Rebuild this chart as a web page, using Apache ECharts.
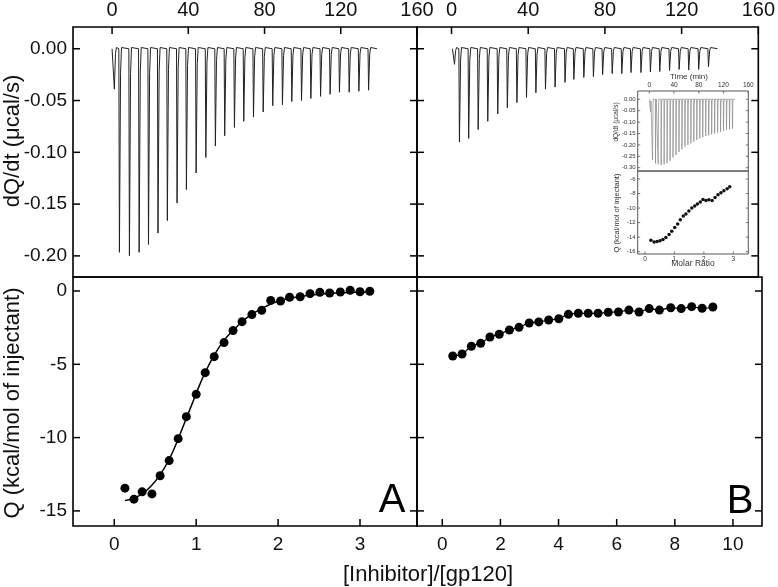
<!DOCTYPE html>
<html>
<head>
<meta charset="utf-8">
<script src="https://cdn.jsdelivr.net/npm/echarts@6/dist/echarts.min.js"></script>
<style>html,body{margin:0;padding:0;background:#fff}#c{width:778px;height:587px}</style>
</head>
<body>
<div id="c"></div>
<script>
// ---------- data ----------
// Panel A thermogram (time in min, dQ/dt in µcal/s)
const aSmallTime = 1.2, aSmallDepth = -0.039;
const aTimes = [3.85,9.1,14.2,19.1,24.1,29.0,34.1,39.0,44.1,49.2,54.2,59.1,64.2,69.1,74.2,79.3,84.3,89.4,94.3,99.4,104.3,109.4,114.4,119.3,124.4,129.5,134.6];
const aDepths = [-0.1966,-0.1998,-0.1966,-0.189,-0.178,-0.166,-0.149,-0.136,-0.120,-0.105,-0.094,-0.084,-0.076,-0.070,-0.066,-0.061,-0.055,-0.054,-0.051,-0.050,-0.048,-0.046,-0.044,-0.042,-0.042,-0.041,-0.040];
// Panel B thermogram
const bSmallTime = 1.55, bSmallDepth = -0.015;
const bTimes = [4.13,8.95,13.9,18.9,24.1,29.1,34.1,39.1,44.0,49.0,54.0,59.2,63.8,69.0,74.0,78.8,83.8,88.8,93.6,98.8,103.7,108.6,113.7,118.7,123.7,128.9,134.0];
const bDepths = [-0.090,-0.0866,-0.078,-0.070,-0.063,-0.057,-0.052,-0.047,-0.0425,-0.039,-0.037,-0.0325,-0.0296,-0.0277,-0.027,-0.025,-0.024,-0.024,-0.023,-0.023,-0.0225,-0.022,-0.021,-0.020,-0.0206,-0.020,-0.0174];
// Panel A integrated heats
const aX = [0.13,0.24,0.34,0.46,0.56,0.67,0.78,0.88,1.00,1.11,1.22,1.34,1.45,1.56,1.68,1.80,1.91,2.03,2.14,2.27,2.39,2.51,2.63,2.76,2.88,3.00,3.12];
const aY = [-13.45,-14.2,-13.7,-13.84,-12.6,-11.57,-10.07,-8.57,-7.05,-5.57,-4.48,-3.52,-2.7,-2.09,-1.61,-1.32,-0.64,-0.68,-0.43,-0.39,-0.18,-0.09,-0.14,-0.07,0.05,-0.05,-0.02];
// Panel A fitted curve
const fitX = [0.13,0.25,0.35,0.45,0.55,0.65,0.75,0.85,0.95,1.05,1.15,1.25,1.35,1.45,1.55,1.65,1.75,1.85,1.95,2.1,2.3,2.5,2.7,2.9,3.12];
const fitY = [-14.3,-14.1,-13.8,-13.3,-12.6,-11.7,-10.5,-9.1,-7.7,-6.3,-5.1,-4.1,-3.3,-2.7,-2.15,-1.7,-1.35,-1.05,-0.8,-0.55,-0.35,-0.22,-0.14,-0.09,-0.06];
// Panel B integrated heats
const bX = [0.36,0.68,1.00,1.32,1.64,1.96,2.31,2.64,2.99,3.32,3.66,4.01,4.34,4.68,5.02,5.36,5.71,6.06,6.42,6.77,7.12,7.47,7.86,8.22,8.58,8.94,9.31];
const bY = [-4.43,-4.30,-3.77,-3.57,-3.14,-2.95,-2.66,-2.48,-2.18,-2.11,-1.98,-1.89,-1.59,-1.52,-1.52,-1.52,-1.45,-1.43,-1.30,-1.43,-1.20,-1.30,-1.14,-1.20,-1.07,-1.18,-1.09];
// Inset thermogram
const iSmallTime = 2.1, iSmallDepth = -0.054;
const iTimes = [5.3,10.1,14.4,19.2,24.0,28.8,33.6,38.4,43.2,48.0,52.8,57.6,62.4,67.2,72.0,76.8,81.6,86.4,91.2,96.0,100.8,105.6,110.4,115.2,120.0,124.8,129.6,134.4];
const iDepths = [-0.266,-0.281,-0.285,-0.288,-0.285,-0.280,-0.270,-0.255,-0.244,-0.231,-0.219,-0.208,-0.200,-0.193,-0.186,-0.178,-0.172,-0.167,-0.161,-0.158,-0.154,-0.150,-0.146,-0.143,-0.139,-0.135,-0.132,-0.129];
// Inset integrated heats
const iX = [0.20,0.31,0.41,0.51,0.61,0.71,0.82,0.91,1.01,1.11,1.20,1.30,1.39,1.49,1.59,1.69,1.78,1.88,1.97,2.07,2.17,2.28,2.38,2.48,2.58,2.68,2.79,2.88];
const iY = [-14.43,-14.66,-14.6,-14.5,-14.33,-14.06,-13.64,-13.2,-12.67,-12.2,-11.6,-11.1,-10.8,-10.4,-10.0,-9.7,-9.43,-9.15,-8.82,-8.96,-8.87,-8.96,-8.55,-8.18,-7.9,-7.62,-7.34,-7.06];
// Tick values
const timeTicks = [0,40,80,120,160];
const dqTicks = [0,-0.05,-0.10,-0.15,-0.20];
const qTicks = [0,-5,-10,-15];
const ratioTicksA = [0,1,2,3];
const ratioTicksB = [0,2,4,6,8,10];
const insetDqTicks = [0,-0.05,-0.10,-0.15,-0.20,-0.25,-0.30];
const insetQTicks = [-6,-8,-10,-12,-14,-16];
const insetRatioTicks = [0,1,2,3];

// ---------- helpers ----------
function trace(start, end, smallT, smallD, times, depths) {
  const all = [[smallT, smallD]].concat(times.map((t, i) => [t, depths[i]]));
  const pts = [[start, 0]];
  all.forEach(([t, d]) => {
    pts.push([t - 0.3, 0], [t, d], [t + 0.6, d * 0.12], [t + 1.1, 0.0012], [t + 2.0, 0.002]);
  });
  pts.push([end, 0]);
  return pts;
}
const zip = (xs, ys) => xs.map((x, i) => [x, ys[i]]);
const FONT = 'Liberation Sans';

const panels = [
  {box: [73, 27, 344, 250],      x: [-20.5, 160],    y: [-0.2204, 0.021],  main: true},
  {box: [417, 27, 345, 250],     x: [-18, 160],      y: [-0.2204, 0.021],  main: true},
  {box: [73, 277, 344, 249],     x: [-0.504, 3.696], y: [-16.03, 0.955],   main: true},
  {box: [417, 277, 345, 249],    x: [-0.87, 11.0],   y: [-16.03, 0.955],   main: true},
  {box: [637.7, 91, 110.6, 80],  x: [-18.7, 160],    y: [-0.3145, 0.0364], main: false},
  {box: [637.7, 171, 110.6, 83], x: [-0.248, 3.51],  y: [-16.32, -4.9],    main: false}
];
const deco = [
  {xPos: 'top', xT: timeTicks, xL: true, xfs: 20, xm: 7, yT: dqTicks, yL: true, yfs: 19, yfmt: v => v.toFixed(2)},
  {xPos: 'top', xT: timeTicks, xL: true, xfs: 20, xm: 7, yT: dqTicks, yL: false},
  {xPos: 'bottom', xT: ratioTicksA, xL: true, xfs: 19, xm: 9, yT: qTicks, yL: true, yfs: 19},
  {xPos: 'bottom', xT: ratioTicksB, xL: true, xfs: 19, xm: 9, yT: qTicks, yL: false},
  {xPos: 'top', xT: timeTicks, xL: true, xfs: 6.5, xm: 2, yT: insetDqTicks, yL: true, yfs: 6, yfmt: v => v.toFixed(2)},
  {xPos: 'bottom', xT: insetRatioTicks, xL: true, xfs: 6.5, xm: 2, yT: insetQTicks, yL: true, yfs: 6}
];

function labelAxis(g, pos, range, ticks, showLabel, fs, margin, fmt, main) {
  return {
    type: 'value', gridIndex: g, position: pos, min: range[0], max: range[1],
    splitLine: {show: false},
    axisLine: {show: false, onZero: false},
    axisTick: {show: false},
    axisLabel: {show: showLabel, customValues: ticks, margin: margin,
      fontFamily: FONT, fontSize: fs, color: main ? '#111' : '#333',
      formatter: fmt || (v => String(v))}
  };
}

const grids = [], xAxes = [], yAxes = [], tickSeries = [];
panels.forEach((p, i) => {
  const d = deco[i];
  grids.push({left: p.box[0], top: p.box[1], width: p.box[2], height: p.box[3], show: true,
    borderColor: p.main ? '#000' : '#555', borderWidth: p.main ? 1.6 : 1});
  xAxes.push(labelAxis(i, d.xPos, p.x, d.xT, d.xL, d.xfs, d.xm, null, p.main));
  yAxes.push(labelAxis(i, 'left', p.y, d.yT, d.yL, d.yfs || 10, p.main ? 6 : 2, d.yfmt, p.main));
  const len = p.main ? 7 : 2.5, col = p.main ? '#000' : '#555', w = p.main ? 1.5 : 0.8;
  // tick marks drawn through the panel's own scales, pointing into the frame
  const sides = [
    {data: d.yT.map(v => [p.x[0], v]), dir: [1, 0]},
    {data: d.yT.map(v => [p.x[1], v]), dir: [-1, 0]},
    d.xPos === 'top' ? {data: d.xT.map(v => [v, p.y[1]]), dir: [0, 1]}
                     : {data: d.xT.map(v => [v, p.y[0]]), dir: [0, -1]}
  ];
  sides.forEach(s => {
    tickSeries.push({
      type: 'custom', xAxisIndex: i, yAxisIndex: i, clip: false, silent: true, z: 10,
      renderItem: (params, api) => {
        const c = api.coord([api.value(0), api.value(1)]);
        return {type: 'line',
          shape: {x1: c[0], y1: c[1], x2: c[0] + s.dir[0] * len, y2: c[1] + s.dir[1] * len},
          style: {stroke: col, lineWidth: w}};
      },
      data: s.data
    });
  });
});

const chart = echarts.init(document.getElementById('c'), null, {renderer: 'canvas'});
const option = {
  animation: false,
  backgroundColor: '#fff',
  grid: grids,
  xAxis: xAxes,
  yAxis: yAxes,
  series: [
    {type: 'line', xAxisIndex: 0, yAxisIndex: 0, showSymbol: false, symbol: 'none',
      lineStyle: {color: '#222', width: 1}, data: trace(0, 139, aSmallTime, aSmallDepth, aTimes, aDepths)},
    {type: 'line', xAxisIndex: 1, yAxisIndex: 1, showSymbol: false, symbol: 'none',
      lineStyle: {color: '#222', width: 1}, data: trace(0.5, 138.7, bSmallTime, bSmallDepth, bTimes, bDepths)},
    {type: 'line', xAxisIndex: 2, yAxisIndex: 2, showSymbol: false, symbol: 'none', smooth: true,
      lineStyle: {color: '#000', width: 1.5}, data: zip(fitX, fitY)},
    {type: 'scatter', xAxisIndex: 2, yAxisIndex: 2, symbol: 'circle', symbolSize: 9,
      itemStyle: {color: '#000', opacity: 1}, data: zip(aX, aY)},
    {type: 'line', xAxisIndex: 3, yAxisIndex: 3, showSymbol: false, symbol: 'none', smooth: true,
      lineStyle: {color: '#000', width: 1.2}, data: zip(bX, bY)},
    {type: 'scatter', xAxisIndex: 3, yAxisIndex: 3, symbol: 'circle', symbolSize: 9,
      itemStyle: {color: '#000', opacity: 1}, data: zip(bX, bY)},
    {type: 'line', xAxisIndex: 4, yAxisIndex: 4, showSymbol: false, symbol: 'none',
      lineStyle: {color: '#888', width: 0.7}, data: trace(0, 138, iSmallTime, iSmallDepth, iTimes, iDepths)},
    {type: 'scatter', xAxisIndex: 5, yAxisIndex: 5, symbol: 'circle', symbolSize: 3.5,
      itemStyle: {color: '#111', opacity: 1}, data: zip(iX, iY)}
  ].concat(tickSeries),
  graphic: [
    {type: 'text', x: 12.5, y: 141, rotation: Math.PI / 2,
      style: {text: 'dQ/dt (μcal/s)', fontFamily: FONT, fontSize: 22, fill: '#111', align: 'center', verticalAlign: 'middle'}},
    {type: 'text', x: 13, y: 403, rotation: Math.PI / 2,
      style: {text: 'Q (kcal/mol of injectant)', fontFamily: FONT, fontSize: 22, fill: '#111', align: 'center', verticalAlign: 'middle'}},
    {type: 'text', x: 428, y: 575,
      style: {text: '[Inhibitor]/[gp120]', fontFamily: FONT, fontSize: 22, fill: '#111', align: 'center', verticalAlign: 'middle'}},
    {type: 'text', x: 392, y: 500.5,
      style: {text: 'A', fontFamily: FONT, fontSize: 40, fill: '#000', align: 'center', verticalAlign: 'middle'}},
    {type: 'text', x: 740, y: 501.5,
      style: {text: 'B', fontFamily: FONT, fontSize: 40, fill: '#000', align: 'center', verticalAlign: 'middle'}},
    {type: 'text', x: 689, y: 77,
      style: {text: 'Time (min)', fontFamily: FONT, fontSize: 8, fill: '#333', align: 'center', verticalAlign: 'middle'}},
    {type: 'text', x: 693, y: 264,
      style: {text: 'Molar Ratio', fontFamily: FONT, fontSize: 8.5, fill: '#333', align: 'center', verticalAlign: 'middle'}},
    {type: 'text', x: 616.7, y: 122, rotation: Math.PI / 2,
      style: {text: 'dQ/dt (μcal/s)', fontFamily: FONT, fontSize: 6.5, fill: '#333', align: 'center', verticalAlign: 'middle'}},
    {type: 'text', x: 616.7, y: 213, rotation: Math.PI / 2,
      style: {text: 'Q (kcal/mol of injectant)', fontFamily: FONT, fontSize: 7.5, fill: '#333', align: 'center', verticalAlign: 'middle'}}
  ]
};
chart.setOption(option);
</script>
</body>
</html>
